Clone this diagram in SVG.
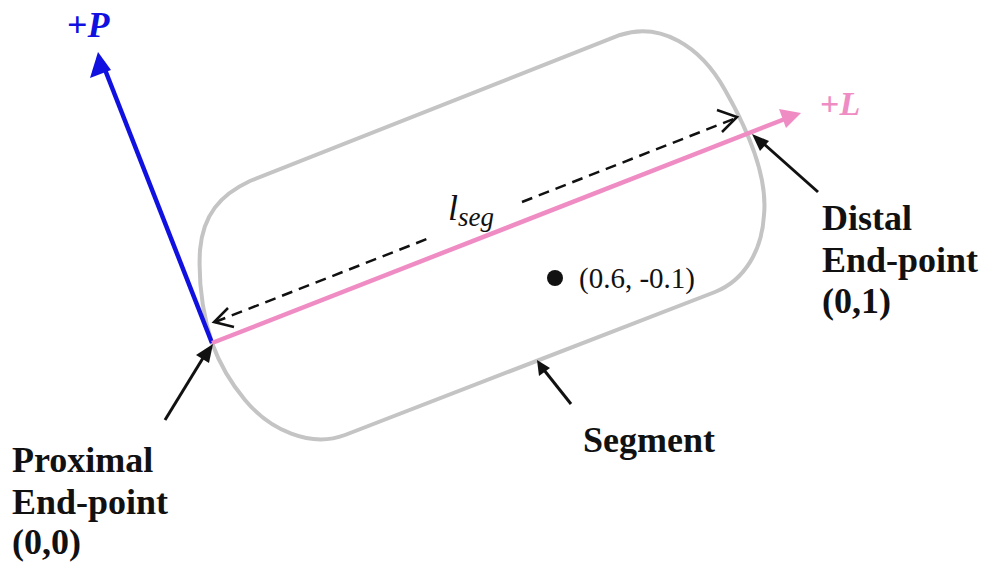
<svg xmlns="http://www.w3.org/2000/svg" width="987" height="562" viewBox="0 0 987 562">
<style>
.lbl{font-family:"Liberation Serif","Times New Roman",serif;font-weight:bold;font-size:36px;fill:#111}
.ptr{stroke:#111;stroke-width:3;fill:none}
</style>
<rect width="987" height="562" fill="#fff"/>
<g id="segment">
<path d="M212,343 C204,318 198,285 200,250 C203,215 220,195 250,181 L620,35 C660,22 700,45 725,90 C745,125 768,175 764,215 C762,250 745,280 715,292 L345,435 C310,448 270,430 245,400 C230,382 220,365 212,343 Z" fill="none" stroke="#c4c4c4" stroke-width="4"/>
</g>
<g id="connectors">
<line x1="212" y1="343" x2="102" y2="62" stroke="#1010e0" stroke-width="4.5"/>
<polygon points="98,52 90,78 111,70" fill="#1010e0"/>
<line x1="212" y1="343" x2="790" y2="117" stroke="#f08cc4" stroke-width="4.5"/>
<polygon points="801,113 779,109 786,128" fill="#f08cc4"/>
<g stroke="#111" stroke-width="2.5" fill="none">
<line x1="215" y1="322" x2="432" y2="237" stroke-dasharray="11,7"/>
<line x1="522" y1="202" x2="736" y2="118" stroke-dasharray="11,7"/>
<polyline points="228,308 214,322 234,327"/>
<polyline points="717,110 737,117 722,132"/>
</g>
<line x1="165" y1="420" x2="203" y2="358" class="ptr"/>
<polygon points="213,344 196,355 209,363" fill="#111"/>
<line x1="818" y1="192" x2="764" y2="144" class="ptr"/>
<polygon points="752,134 760,151 769,141" fill="#111"/>
<line x1="571" y1="404" x2="544" y2="370" class="ptr"/>
<polygon points="537,360 539,376 550,368" fill="#111"/>
</g>
<g id="axis-labels">
<text x="67" y="37" font-family="Liberation Serif, serif" font-size="36" font-weight="bold" fill="#1010e0">+<tspan font-style="italic">P</tspan></text>
<text x="820" y="115" font-family="Liberation Serif, serif" font-size="34" font-weight="bold" fill="#f08cc4">+<tspan font-style="italic">L</tspan></text>
</g>
<g id="lseg-label">
<text x="448" y="220" font-family="Liberation Serif, serif" font-size="36" font-style="italic" fill="#111">l<tspan font-size="27" dy="6">seg</tspan></text>
</g>
<g id="point">
<circle cx="555" cy="278" r="8" fill="#111"/>
<text x="579" y="288" font-family="Liberation Serif, serif" font-size="29" fill="#111">(0.6, -0.1)</text>
</g>
<g id="proximal-label">
<text class="lbl" x="12" y="472">Proximal</text>
<text class="lbl" x="12" y="514">End-point</text>
<text class="lbl" x="12" y="554">(0,0)</text>
</g>
<g id="distal-label">
<text class="lbl" x="822" y="230">Distal</text>
<text class="lbl" x="822" y="272">End-point</text>
<text class="lbl" x="822" y="313">(0,1)</text>
</g>
<g id="segment-label">
<text class="lbl" x="583" y="452">Segment</text>
</g>
</svg>
